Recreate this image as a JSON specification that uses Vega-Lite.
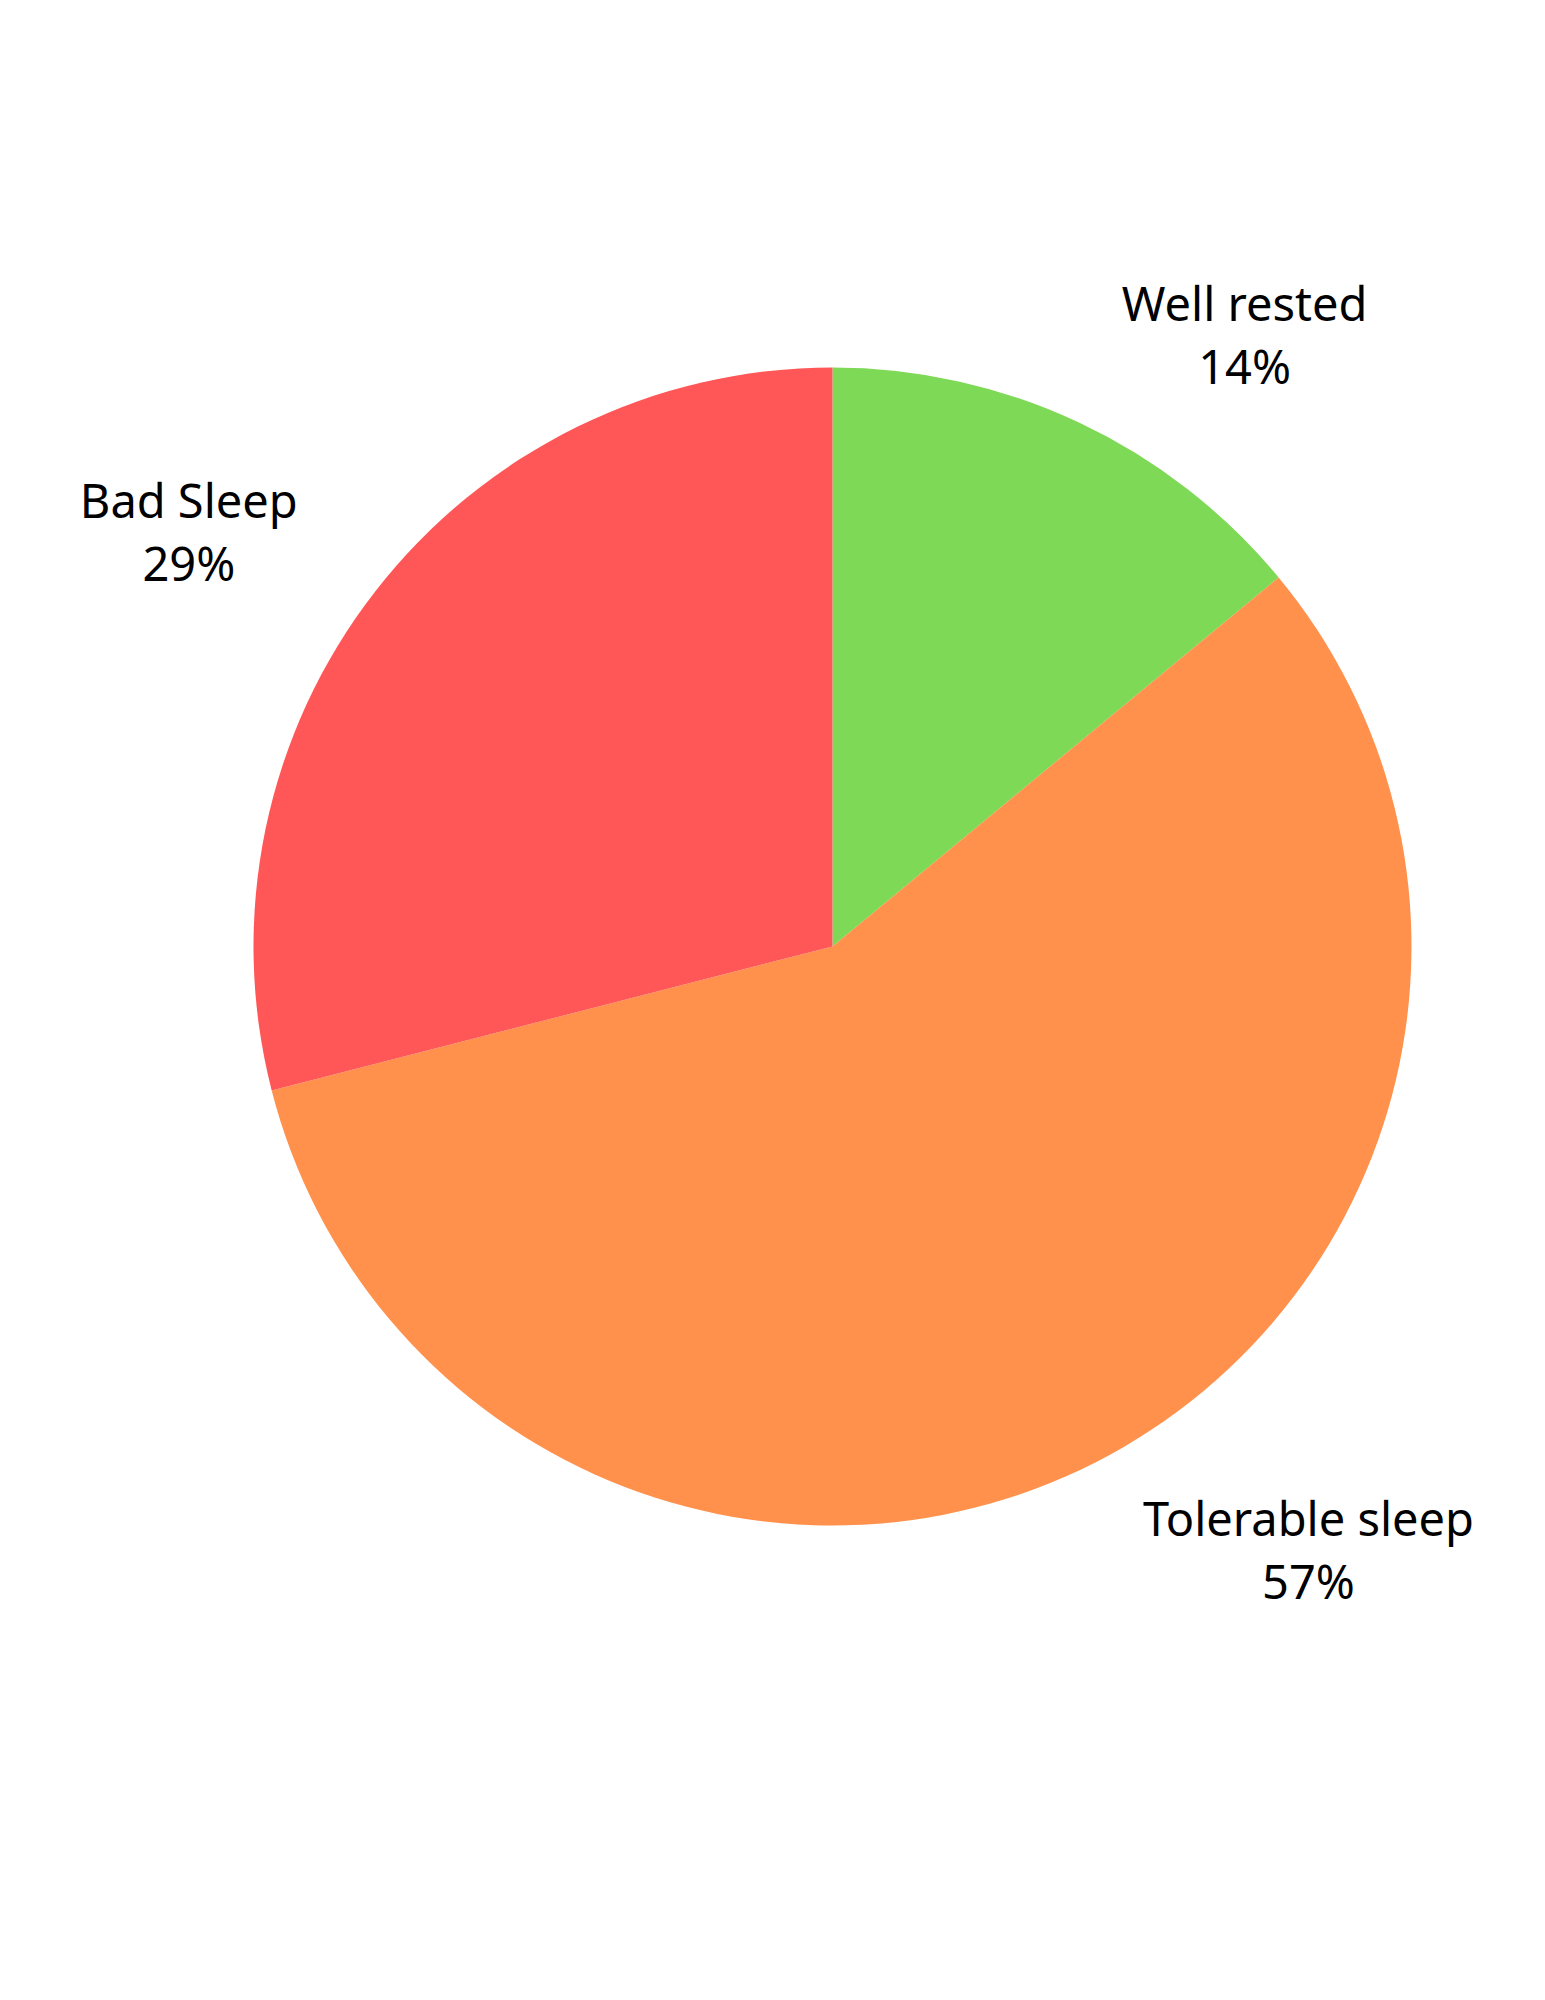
{
  "$schema": "https://vega.github.io/schema/vega-lite/v6.json",
  "autosize": {"type": "fit", "contains": "padding"},
  "width": 1545,
  "height": 2000,
  "padding": {"left": 120, "right": 0, "top": 0, "bottom": 107},
  "background": "white",
  "config": {"view": {"stroke": null}},
  "data": {
    "values": [
      {"category": "Well rested", "value": 14, "rank": 1},
      {"category": "Tolerable sleep", "value": 57, "rank": 2},
      {"category": "Bad Sleep", "value": 29, "rank": 3}
    ]
  },
  "transform": [
    {"calculate": "datum.category + '\\n' + datum.value + '%'", "as": "label"}
  ],
  "encoding": {
    "theta": {"field": "value", "type": "quantitative", "stack": true},
    "order": {"field": "rank", "type": "quantitative"}
  },
  "layer": [
    {
      "mark": {"type": "arc", "outerRadius": 579},
      "encoding": {
        "color": {
          "field": "category",
          "type": "nominal",
          "scale": {
            "domain": ["Well rested", "Tolerable sleep", "Bad Sleep"],
            "range": ["#7ED957", "#FF914D", "#FF5757"]
          },
          "legend": null
        }
      }
    },
    {
      "mark": {"type": "text", "radius": 740, "dx": 97, "dy": 30, "font": "Noto Sans", "fontSize": 47, "lineBreak": "\n", "lineHeight": 63, "align": "center", "baseline": "middle", "color": "black"},
      "encoding": {
        "text": {"condition": {"test": "datum.category == 'Well rested'", "field": "label"}, "value": ""}
      }
    },
    {
      "mark": {"type": "text", "radius": 740, "dx": 140, "dy": -84, "font": "Noto Sans", "fontSize": 47, "lineBreak": "\n", "lineHeight": 63, "align": "center", "baseline": "middle", "color": "black"},
      "encoding": {
        "text": {"condition": {"test": "datum.category == 'Tolerable sleep'", "field": "label"}, "value": ""}
      }
    },
    {
      "mark": {"type": "text", "radius": 740, "dx": -59, "dy": 11, "font": "Noto Sans", "fontSize": 47, "lineBreak": "\n", "lineHeight": 63, "align": "center", "baseline": "middle", "color": "black"},
      "encoding": {
        "text": {"condition": {"test": "datum.category == 'Bad Sleep'", "field": "label"}, "value": ""}
      }
    }
  ]
}
